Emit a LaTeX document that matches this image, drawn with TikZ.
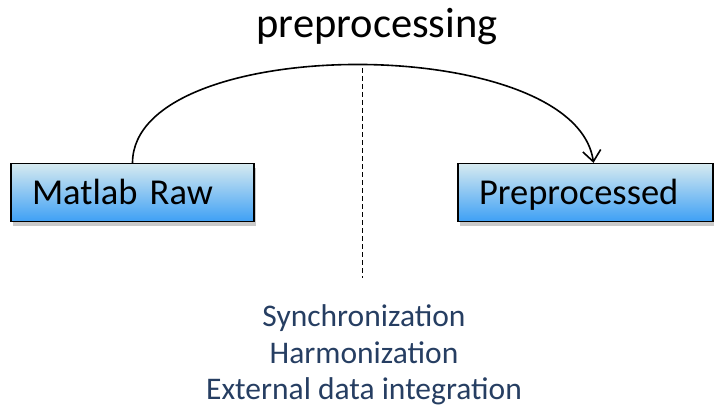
\documentclass[tikz,border=0pt]{standalone}
\usepackage{fontspec}
\setmainfont{Carlito}
\usetikzlibrary{arrows.meta,shadows}
\definecolor{boxtop}{RGB}{214,234,240}
\definecolor{boxbot}{RGB}{62,160,245}
\definecolor{stepcol}{RGB}{38,62,98}
\tikzset{
  databox/.style={draw=black, line width=1.2pt, top color=boxtop, bottom color=boxbot,
    minimum height=58pt, inner xsep=21pt, inner ysep=0pt, align=left,
    text height=24pt, text depth=0pt,
    font=\fontsize{36.5}{40}\selectfont,
    drop shadow={shadow xshift=2pt, shadow yshift=-4pt, opacity=0.35, fill=black!60}},
  flow/.style={line width=1.6pt, -{Straight Barb[length=11pt,width=18pt,line width=1.6pt]}},
  steptext/.style={text=stepcol, align=center, font=\fontsize{31.5}{36.5}\selectfont}
}
\begin{document}
\begin{tikzpicture}[x=1pt,y=-1pt]
\useasboundingbox (0,0) rectangle (714,409);
\node[databox, text width=201pt] (raw) at (132.5,192.5) {Matlab Raw};
\node[databox, text width=213pt] (pre) at (585.5,192.5) {Preprocessed};
\node[font=\fontsize{42.5}{46}\selectfont] (title) at (377,27) {preprocessing};
\coordinate (dtop) at (362,68);
\coordinate (dbot) at (362,278);
\draw[dashed, line width=1pt, dash pattern=on 5pt off 3pt] (dtop) -- (dbot);
\coordinate (aend) at ([xshift=8pt]pre.north);
\draw[flow] (raw.north) .. controls (133,32) and (575,32) .. (aend);
\node[steptext] (steps) at (364,355) {Synchronization\\Harmonization\\External data integration};
\end{tikzpicture}
\end{document}
